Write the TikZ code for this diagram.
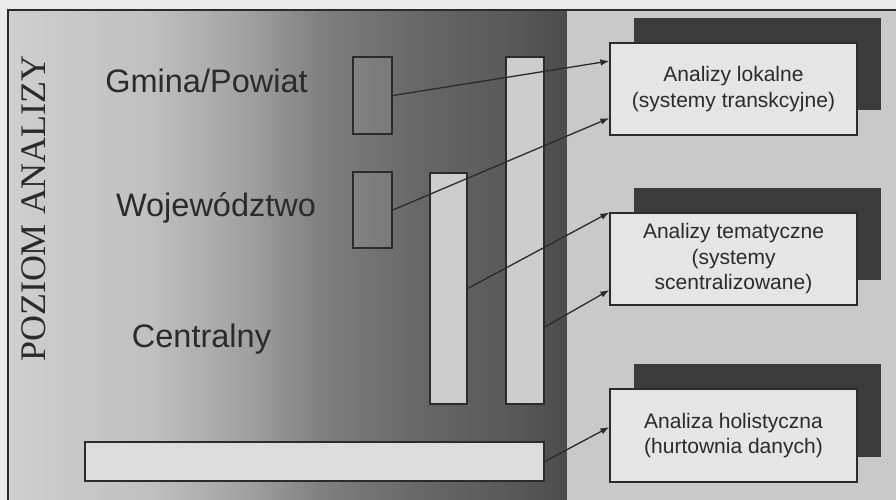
\documentclass[tikz,border=0pt]{standalone}
\usepackage{fontspec}
\setmainfont{Liberation Sans}
\newfontfamily\serifface{Liberation Serif}
\usetikzlibrary{arrows.meta}

\definecolor{paper}{HTML}{EBEBEB}
\definecolor{ink}{HTML}{2B2B2B}
\definecolor{panelR}{HTML}{C9C9C9}
\definecolor{boxfill}{HTML}{E5E5E5}
\definecolor{shadowc}{HTML}{3B3B3B}
\definecolor{barfill}{HTML}{CDCDCD}
\definecolor{barfillB}{HTML}{DCDCDC}
\definecolor{gA}{HTML}{CFCFCF}
\definecolor{gB}{HTML}{C0C0C0}
\definecolor{gC}{HTML}{A0A0A0}
\definecolor{gD}{HTML}{808080}
\definecolor{gE}{HTML}{676767}
\definecolor{gF}{HTML}{575757}
\definecolor{gG}{HTML}{4C4C4C}

% light-to-dark background of the level panel
\pgfdeclarehorizontalshading{levelshade}{100bp}{%
  color(0bp)=(gA); color(25bp)=(gA); color(37.7bp)=(gB);
  color(46.6bp)=(gC); color(52.9bp)=(gD); color(61.8bp)=(gE);
  color(70.8bp)=(gF); color(75bp)=(gG); color(100bp)=(gG)}

\begin{document}
\begin{tikzpicture}[x=1pt,y=-1pt,
  levellabel/.style={anchor=base, text=ink, inner sep=0pt,
    font=\fontsize{32.5}{32.5}\selectfont},
  smallrect/.style={draw=ink, line width=1.8pt, fill=white, fill opacity=0.08,
    text opacity=1, inner sep=0pt, minimum width=39pt},
  lightbar/.style={draw=ink, line width=1.5pt, fill=barfill, inner sep=0pt},
  infobox/.style={draw=ink, line width=1.2pt, fill=boxfill, inner sep=0pt,
    minimum width=247pt, minimum height=92pt, align=center, text=ink,
    font=\fontsize{21}{25.5}\selectfont},
  link/.style={draw=ink, line width=1.3pt, -{Latex[length=9pt,width=6.5pt]}}
]
\useasboundingbox (0,0) rectangle (896,500);
\fill[paper] (0,0) rectangle (896,500);

% panels
\shade[shading=levelshade] (8,10) rectangle (567,500);
\fill[panelR] (567,10) rectangle (896,500);
\draw[ink, line width=1.6pt] (8,500) -- (8,10) -- (896,10);

% axis title
\node[rotate=90, text=ink, inner sep=0pt,
  font=\serifface\fontsize{36}{36}\selectfont] (axis) at (34,208.5) {POZIOM ANALIZY};

% level names
\node[levellabel] (lgm) at (206.5,93) {Gmina/Powiat};
\node[levellabel] (lwoj) at (216,216) {Województwo};
\node[levellabel] (lcen) at (201.5,347) {Centralny};

% scope bars
\node[smallrect, minimum height=77pt] (gm) at (372.5,95.5) {};
\node[smallrect, minimum height=76pt] (woj) at (372.5,210) {};
\node[lightbar, minimum width=37pt, minimum height=231pt] (cbar) at (448.5,288.5) {};
\node[lightbar, minimum width=38pt, minimum height=347pt] (rbar) at (525,230.5) {};
\node[lightbar, fill=barfillB, minimum width=459pt, minimum height=39pt] (bbar) at (314.5,461.5) {};

% analysis boxes with offset shadows
\fill[shadowc] (634,18) rectangle (881,110);
\fill[shadowc] (634,188) rectangle (881,280);
\fill[shadowc] (634,364) rectangle (881,457);
\node[infobox] (b1) at (733.5,89) {Analizy lokalne\\(systemy transkcyjne)};
\node[infobox] (b2) at (733.5,259) {Analizy tematyczne\\(systemy\\scentralizowane)};
\node[infobox, minimum height=93pt] (b3) at (733.5,435.5) {Analiza holistyczna\\(hurtownia danych)};

% connectors
\draw[link] (gm.east) -- ([yshift=28pt]b1.west);
\draw[link] (woj.east) -- ([yshift=-29pt]b1.west);
\draw[link] (cbar.east) -- (b2.north west);
\draw[link] ([yshift=-96.5pt]rbar.east) -- ([yshift=-31pt]b2.west);
\draw[link] (bbar.east) -- ([yshift=8.5pt]b3.west);
\end{tikzpicture}
\end{document}
